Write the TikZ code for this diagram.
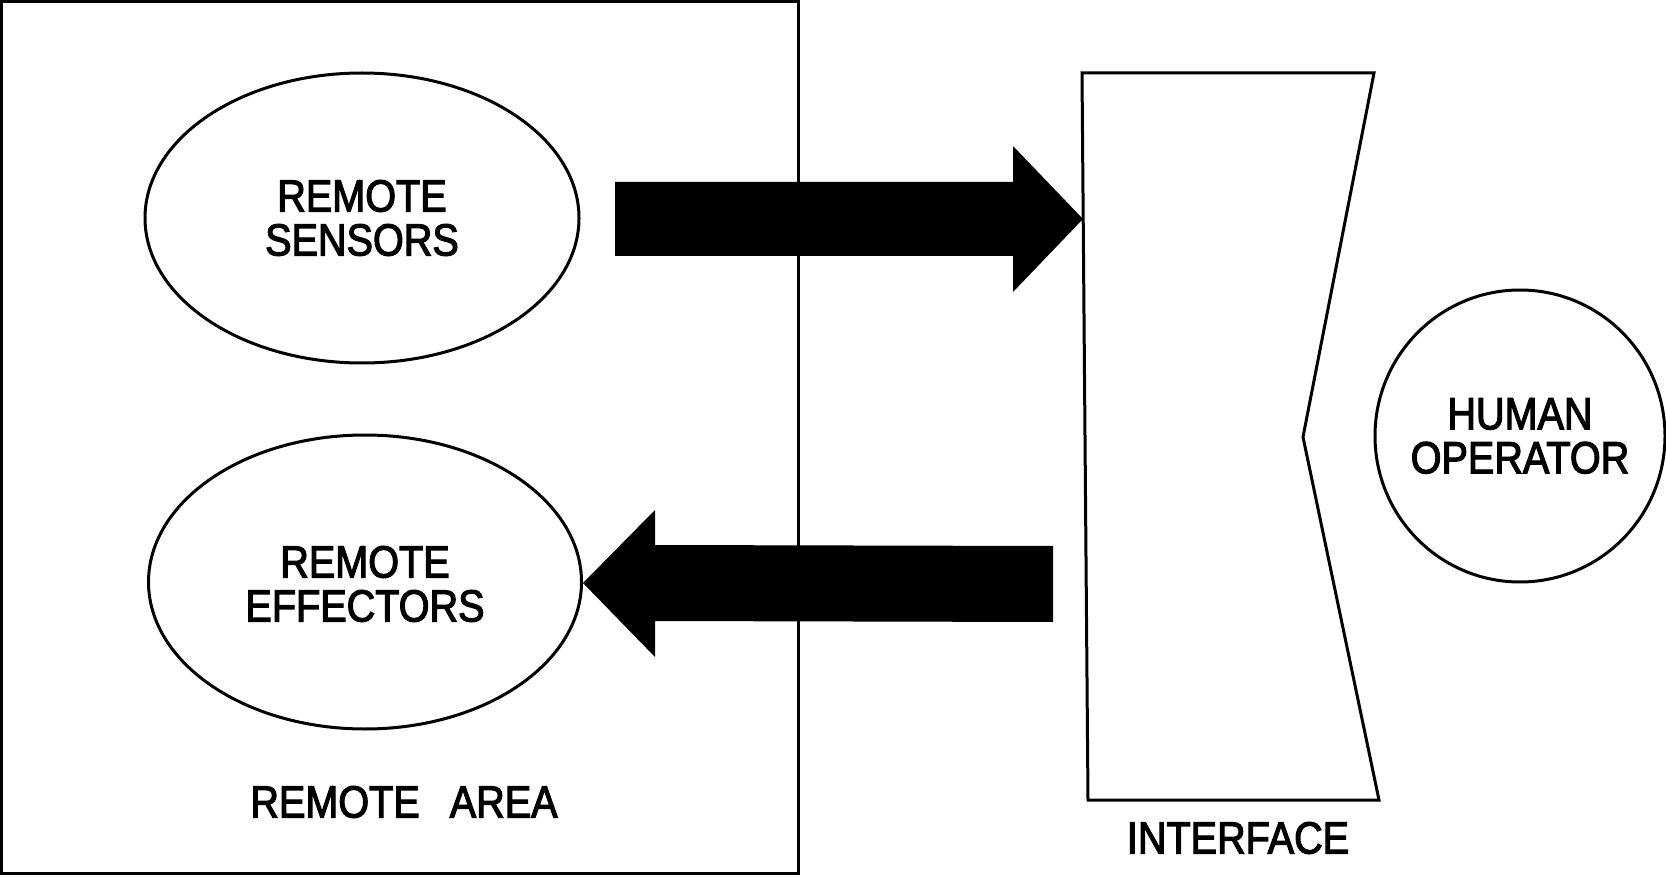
\documentclass[tikz,border=0pt]{standalone}
\usepackage{fontspec}
\setmainfont{Liberation Sans}[FakeStretch=0.88,FakeBold=2.6]
\usetikzlibrary{shapes.geometric,calc}
\begin{document}
\begin{tikzpicture}[x=1pt,y=-1pt,
  outline/.style={draw=black,line width=3pt},
  blob/.style={outline,ellipse,inner sep=0pt},
  lbl/.style={font=\fontsize{45}{44}\selectfont,inner sep=0pt,align=center},
  blockarrow/.style={fill=black}
]
\useasboundingbox (0,0) rectangle (1666,877);

% remote area frame
\node[outline,rectangle,minimum width=797pt,minimum height=871pt,inner sep=0pt] (area) at (399.5,437.5) {};
\node[lbl] (arealbl) at (404,802) {REMOTE\hspace{30pt}AREA};

% ellipses
\node[blob,minimum width=434pt,minimum height=290pt] (sens) at (362,218) {};
\node[lbl] (senslbl) at (sens.center) {REMOTE\\SENSORS};
\node[blob,minimum width=433pt,minimum height=294pt] (eff) at (365,582) {};
\node[lbl] (efflbl) at ($(eff.center)+(0,2)$) {REMOTE\\EFFECTORS};
\node[blob,minimum width=290pt,minimum height=292pt] (op) at (1520,436) {};
\node[lbl] (oplbl) at (op.center) {HUMAN\\OPERATOR};

% interface
\coordinate (i1) at (1082,73);
\coordinate (i2) at (1374,73);
\coordinate (i3) at (1303,437);
\coordinate (i4) at (1379,800);
\coordinate (i5) at (1088,800);
\draw[outline,line join=miter] (i1) -- (i2) -- (i3) -- (i4) -- (i5) -- cycle;
\node[lbl] (iflbl) at (1238,838) {INTERFACE};

% upper block arrow: sensors -> interface
\coordinate (a1s) at (615,219);
\coordinate (a1t) at (1083,219);
\fill[blockarrow] ($(a1s)+(0,-37)$) -- ($(a1t)+(-70,-37)$) -- ($(a1t)+(-70,-73)$) -- (a1t)
  -- ($(a1t)+(-70,73)$) -- ($(a1t)+(-70,37)$) -- ($(a1s)+(0,37)$) -- cycle;

% lower block arrow: interface -> effectors
\coordinate (a2s) at (1053,584);
\coordinate (a2t) at ($(eff.east)+(0,1)$);
\fill[blockarrow] ($(a2s)+(0,-38)$) -- ($(a2t)+(72,-38)$) -- ($(a2t)+(72,-73)$) -- (a2t)
  -- ($(a2t)+(72,74)$) -- ($(a2t)+(72,38)$) -- ($(a2s)+(0,38)$) -- cycle;
\end{tikzpicture}
\end{document}
